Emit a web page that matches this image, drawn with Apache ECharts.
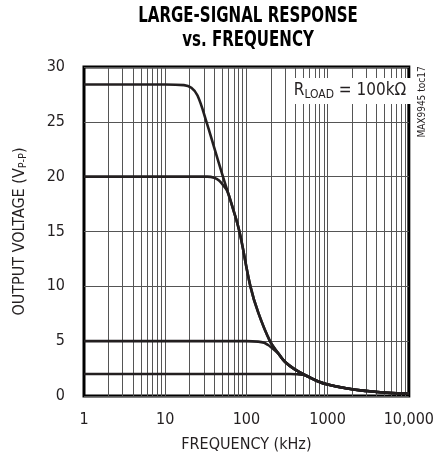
<!DOCTYPE html>
<html>
<head>
<meta charset="utf-8">
<script src="https://cdn.jsdelivr.net/npm/echarts@6/dist/echarts.min.js"></script>
<style>
  html, body { margin: 0; padding: 0; background: #fff; }
  #main { width: 437px; height: 460px; }
</style>
</head>
<body>
<div id="main"></div>
<script>
// frequency (kHz) / output voltage (Vp-p)
var curve28 = [[1, 28.4], [10, 28.4], [17, 28.35], [21, 28.1], [25, 27.4], [32.2, 25], [40.3, 22.6], [51.4, 20], [65, 17.6], [82, 15], [112, 10], [140, 7.6], [195, 5.0], [246, 3.9], [300, 3.1], [400, 2.4], [540, 1.87], [755, 1.35], [1000, 1.05], [1750, 0.68], [3080, 0.45], [5400, 0.3], [10000, 0.22]];
var curve20 = [[1, 20], [10, 20], [33, 20], [40, 19.9], [46, 19.65], [52, 19.2], [58, 18.7], [65, 17.6], [82, 15], [112, 10], [140, 7.6], [195, 5.0], [246, 3.9], [300, 3.1], [400, 2.4], [540, 1.87], [755, 1.35], [1000, 1.05], [1750, 0.68], [3080, 0.45], [5400, 0.3], [10000, 0.22]];
var curve5 = [[1, 5], [10, 5], [100, 5], [140, 4.96], [165, 4.85], [185, 4.65], [205, 4.4], [225, 4.15], [246, 3.9], [300, 3.1], [400, 2.4], [540, 1.87], [755, 1.35], [1000, 1.05], [1750, 0.68], [3080, 0.45], [5400, 0.3], [10000, 0.22]];
var curve2 = [[1, 2], [10, 2], [100, 2], [350, 2], [420, 1.98], [480, 1.95], [540, 1.87], [755, 1.35], [1000, 1.05], [1750, 0.68], [3080, 0.45], [5400, 0.3], [10000, 0.22]];

var gridFreqs = [2, 3, 4, 5, 6, 7, 8, 9, 10, 20, 30, 40, 50, 60, 70, 80, 90, 100,
  200, 300, 400, 500, 600, 700, 800, 900, 1000, 2000, 3000, 4000, 5000, 6000, 7000, 8000, 9000];
var xLabels = { 1: '1', 10: '10', 100: '100', 1000: '1000', 10000: '10,000' };

var FONT = '"Liberation Sans Narrow", "DejaVu Sans Condensed", Arial, sans-serif';
var INK = '#231f20';

var chart = echarts.init(document.getElementById('main'));

function curve(data) {
  return {
    type: 'line',
    data: data,
    smooth: 0.4,
    showSymbol: false,
    z: 5,
    lineStyle: { color: INK, width: 2.6 }
  };
}

var option = {
  backgroundColor: '#fff',
  animation: false,
  grid: {
    left: 84, right: 25, top: 67, bottom: 64,
    show: true, borderColor: '#000', borderWidth: 3, backgroundColor: 'transparent'
  },
  xAxis: {
    type: 'log',
    logBase: 10,
    min: 1,
    max: 10000,
    name: 'FREQUENCY (kHz)',
    nameLocation: 'middle',
    nameGap: 41,
    nameTextStyle: { fontFamily: FONT, fontSize: 16, color: INK },
    axisLine: { show: false },
    axisTick: { show: false },
    splitLine: { show: false },
    axisLabel: {
      margin: 16,
      fontFamily: FONT, fontSize: 16, color: INK,
      formatter: function (v) { return xLabels[Math.round(v)] || ''; }
    }
  },
  yAxis: {
    type: 'value',
    min: 0,
    max: 30,
    interval: 5,
    name: '{m|OUTPUT VOLTAGE (V}{s|P-P}{m|)}',
    nameLocation: 'middle',
    nameRotate: 90,
    nameGap: 55,
    nameTextStyle: {
      rich: {
        m: { fontFamily: FONT, fontSize: 16, color: INK, lineHeight: 18 },
        s: { fontFamily: FONT, fontSize: 11, color: INK, lineHeight: 8, verticalAlign: 'bottom' }
      }
    },
    axisLine: { show: false },
    axisTick: { show: false },
    splitLine: { show: true, lineStyle: { color: '#555', width: 1 } },
    axisLabel: { margin: 19, fontFamily: FONT, fontSize: 16, color: INK }
  },
  series: [
    {
      type: 'line',
      data: [],
      z: 1,
      markLine: {
        silent: true,
        symbol: 'none',
        animation: false,
        label: { show: false },
        lineStyle: { color: '#555', width: 1, type: 'solid' },
        data: gridFreqs.map(function (f) { return { xAxis: f }; })
      }
    },
    curve(curve28),
    curve(curve20),
    curve(curve5),
    curve(curve2)
  ],
  graphic: [
    {
      type: 'text',
      x: 248,
      y: 4,
      scaleX: 0.76,
      style: {
        text: 'LARGE-SIGNAL RESPONSE\nvs. FREQUENCY',
        font: 'bold 22px ' + FONT,
        fill: '#000',
        align: 'center',
        verticalAlign: 'top',
        lineHeight: 24
      }
    },
    {
      type: 'text',
      x: 350,
      y: 91,
      z: 10,
      style: {
        text: '{r|R}{s|LOAD}{r| = 100kΩ}',
        align: 'center',
        verticalAlign: 'middle',
        backgroundColor: '#fff',
        padding: [3, 5, 3, 5],
        rich: {
          r: { fontFamily: FONT, fontSize: 17, fill: INK, lineHeight: 20 },
          s: { fontFamily: FONT, fontSize: 12, fill: INK, lineHeight: 10, verticalAlign: 'bottom' }
        }
      }
    },
    {
      type: 'text',
      x: 422,
      y: 102,
      rotation: Math.PI / 2,
      style: {
        text: 'MAX9945 toc17',
        font: '10px ' + FONT,
        fill: INK,
        align: 'center',
        verticalAlign: 'middle'
      }
    }
  ]
};

chart.setOption(option);
</script>
</body>
</html>
